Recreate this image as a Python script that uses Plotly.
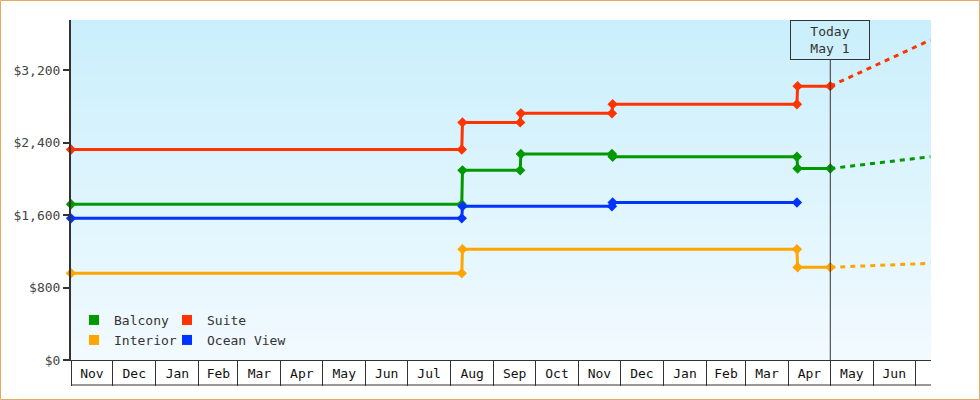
import plotly.graph_objects as go

# fechas de los escalones (cada salto tiene dos puntos casi iguales)
fechas = ["2012-11-01", "2013-08-09", "2013-08-09 12:00", "2013-09-20", "2013-09-20 12:00",
          "2013-11-25", "2013-11-25 12:00", "2014-04-07", "2014-04-07 12:00", "2014-05-01"]
balcony = [1720, 1720, 2095, 2095, 2275, 2275, 2245, 2245, 2115, 2115]
suite = [2325, 2325, 2625, 2625, 2725, 2725, 2825, 2825, 3025, 3025]

fechas_interior = ["2012-11-01", "2013-08-09", "2013-08-09 12:00", "2014-04-07", "2014-04-07 12:00", "2014-05-01"]
interior = [958, 958, 1224, 1224, 1024, 1024]

fechas_ocean = ["2012-11-01", "2013-08-09", "2013-08-09 12:00", "2013-11-25", "2013-11-25 12:00", "2014-04-07"]
ocean = [1565, 1565, 1699, 1699, 1740, 1740]

# pronostico desde hoy
fechas_pron = ["2014-05-01", "2014-07-12"]
balcony_pron = [2115, 2246]
suite_pron = [3025, 3535]
interior_pron = [1024, 1068]

hoy = "2014-05-01"
rango_x = ["2012-11-01", "2014-07-12 10:00"]
rango_y = [0, 3756]
ticks_y = [0, 800, 1600, 2400, 3200]
etiquetas_y = ["$0", "$800", "$1,600", "$2,400", "$3,200"]

VERDE = "#009900"
ROJO = "#ff3300"
NARANJA = "#ffa500"
AZUL = "#0033ff"
FUENTE = "DejaVu Sans Mono"

W, H = 980, 400
ML, MR, MT, MB = 71, 49, 20, 40
PW, PH = W - ML - MR, H - MT - MB

fig = go.Figure()

series = [
    (fechas, balcony, VERDE),
    (fechas, suite, ROJO),
    (fechas_interior, interior, NARANJA),
    (fechas_ocean, ocean, AZUL),
]
for xs, ys, color in series:
    fig.add_trace(go.Scatter(
        x=xs, y=ys, mode="lines+markers",
        line=dict(color=color, width=3),
        marker=dict(symbol="diamond", size=8, color=color),
        cliponaxis=False, showlegend=False, hoverinfo="skip",
    ))

for ys, color in [(balcony_pron, VERDE), (suite_pron, ROJO), (interior_pron, NARANJA)]:
    fig.add_trace(go.Scatter(
        x=fechas_pron, y=ys, mode="lines",
        line=dict(color=color, width=3, dash="5px,5px"),
        showlegend=False, hoverinfo="skip",
    ))

# leyenda: una leyenda por entrada para ubicar la grilla 2x2
entradas = [("Balcony", VERDE, "legend"), ("Suite", ROJO, "legend2"),
            ("Interior", NARANJA, "legend3"), ("Ocean View", AZUL, "legend4")]
for nombre, color, ley in entradas:
    fig.add_trace(go.Scatter(
        x=[None], y=[None], mode="markers", name=nombre, legend=ley,
        marker=dict(symbol="square", size=10, color=color),
    ))

def leyenda(px, py):
    return dict(orientation="h", x=(px - ML) / PW, y=(MT + PH - py) / PH,
                xanchor="left", yanchor="middle", bgcolor="rgba(0,0,0,0)",
                font=dict(family=FUENTE, size=13, color="#333"))

# fondo degradado
arriba = (202, 239, 252)
abajo = (242, 250, 255)
n = 68
shapes = []
for i in range(n):
    t = i / (n - 1)
    c = tuple(round(arriba[k] + (abajo[k] - arriba[k]) * t) for k in range(3))
    shapes.append(dict(type="rect", xref="paper", yref="paper", layer="below",
                       x0=0, x1=1, y0=1 - (i + 1) / n, y1=1 - i / n,
                       fillcolor="rgb(%d,%d,%d)" % c, line=dict(width=0)))

# linea de hoy
shapes.append(dict(type="line", xref="x", yref="paper", x0=hoy, x1=hoy,
                   y0=0, y1=(PH - 40) / PH, line=dict(color="#333", width=1)))
# linea inferior de las cajas de meses
shapes.append(dict(type="line", xref="paper", yref="paper", x0=0, x1=1,
                   y0=-25 / PH, y1=-25 / PH, line=dict(color="#333", width=1)))
# borde de la imagen
shapes.append(dict(type="rect", xref="paper", yref="paper",
                   x0=(0.5 - ML) / PW, x1=(W - 0.5 - ML) / PW,
                   y0=-(MB - 0.5) / PH, y1=(PH + MT - 0.5) / PH,
                   line=dict(color="#e8a860", width=1)))

fig.update_layout(
    width=W, height=H,
    margin=dict(l=ML, r=MR, t=MT, b=MB),
    paper_bgcolor="white",
    plot_bgcolor="rgba(0,0,0,0)",
    font=dict(family=FUENTE, size=13, color="#333"),
    shapes=shapes,
    annotations=[dict(
        x=hoy, xref="x", y=1, yref="paper", yanchor="top",
        text="Today<br>May 1", showarrow=False,
        width=78, height=38, borderpad=0, borderwidth=1, bordercolor="#333",
        font=dict(family=FUENTE, size=13, color="#333"),
    )],
    legend=leyenda(74, 320),
    legend2=leyenda(167, 320),
    legend3=leyenda(74, 340),
    legend4=leyenda(167, 340),
    xaxis=dict(
        type="date", range=rango_x, showgrid=False, zeroline=False,
        showline=True, linecolor="#333", linewidth=1,
        ticks="outside", ticklen=25, tickwidth=1, tickcolor="#333",
        dtick="M1", tick0="2012-11-01", tickformat="%b", ticklabelmode="period",
        ticklabelstandoff=-24,
        tickfont=dict(family=FUENTE, size=13, color="#111"),
    ),
    yaxis=dict(
        range=rango_y, tickvals=ticks_y, ticktext=etiquetas_y,
        showgrid=False, zeroline=False,
        showline=True, linecolor="#333", linewidth=2,
        ticks="outside", ticklen=6, tickwidth=2, tickcolor="#333",
        tickfont=dict(family=FUENTE, size=13, color="#444"),
    ),
)

fig.write_html("out.html", config={"displayModeBar": False},
               post_script="document.body.style.margin='0';")
